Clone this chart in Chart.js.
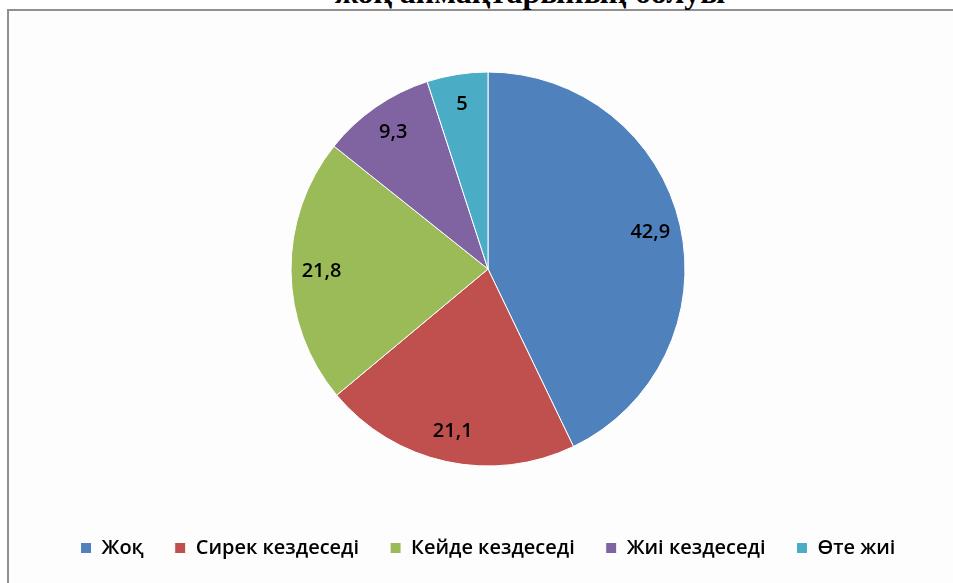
<!DOCTYPE html>
<html>
<head>
<meta charset="utf-8">
<script src="https://cdn.jsdelivr.net/npm/chart.js@4"></script>
<style>
    html, body { margin: 0; padding: 0; background: #fff; overflow: hidden; }
    #wrap { position: relative; width: 953px; height: 583px; }
    #frame {
        position: absolute; left: 7px; top: 9px; width: 1000px; height: 600px;
        border-left: 2px solid #909090; border-top: 2px solid #909090;
        background: #fdfdfd; pointer-events: none;
    }
    #title {
        position: absolute; left: 335px; top: -24.5px; white-space: nowrap;
        font: bold 32px "Liberation Serif", "Times New Roman", serif; line-height: 32px; color: #000;
    }
    #chart { position: absolute; left: 0; top: 0; }
</style>
</head>
<body>
<div id="wrap">
    <div id="frame"></div>
    <div id="title">жоқ аймақтарының болуы</div>
    <canvas id="chart" width="953" height="583"></canvas>
</div>
<script>
const categories = ['Жоқ', 'Сирек кездеседі', 'Кейде кездеседі', 'Жиі кездеседі', 'Өте жиі']
const values = [42.9, 21.1, 21.8, 9.3, 5]
const colors = ['#4F81BD', '#C0504D', '#9BBB59', '#8064A2', '#4BACC6']

// value labels inside the slices, Excel style "42,9"
const sliceLabels = {
    id: 'sliceLabels',
    afterDatasetsDraw(chart) {
        const ctx = chart.ctx
        const meta = chart.getDatasetMeta(0)
        ctx.save()
        ctx.font = '600 20px "Open Sans", sans-serif'
        ctx.fillStyle = '#000'
        ctx.textAlign = 'center'
        ctx.textBaseline = 'middle'
        meta.data.forEach(function(arc, i) {
            const p = arc.getProps(['x', 'y', 'startAngle', 'endAngle', 'outerRadius'], true)
            const mid = (p.startAngle + p.endAngle) / 2
            const r = p.outerRadius * 0.845
            const txt = String(values[i]).replace('.', ',')
            ctx.fillText(txt, p.x + Math.cos(mid) * r, p.y + Math.sin(mid) * r)
        })
        ctx.restore()
    }
}

new Chart('chart', {
    type: 'pie',
    data: {
        labels: categories,
        datasets: [
            {
                data: values,
                backgroundColor: colors,
                borderColor: '#ffffff',
                borderWidth: 1,
                radius: 197
            }
        ]
    },
    options: {
        responsive: false,
        animation: false,
        layout: { padding: { left: 23, right: 0, top: 31, bottom: 15 } },
        plugins: {
            tooltip: { enabled: false },
            legend: {
                position: 'bottom',
                labels: {
                    boxWidth: 11,
                    boxHeight: 11,
                    padding: 31,
                    color: '#000',
                    font: { family: '"Open Sans", sans-serif', size: 20, weight: '600' }
                }
            }
        }
    },
    plugins: [sliceLabels]
})
</script>
</body>
</html>
